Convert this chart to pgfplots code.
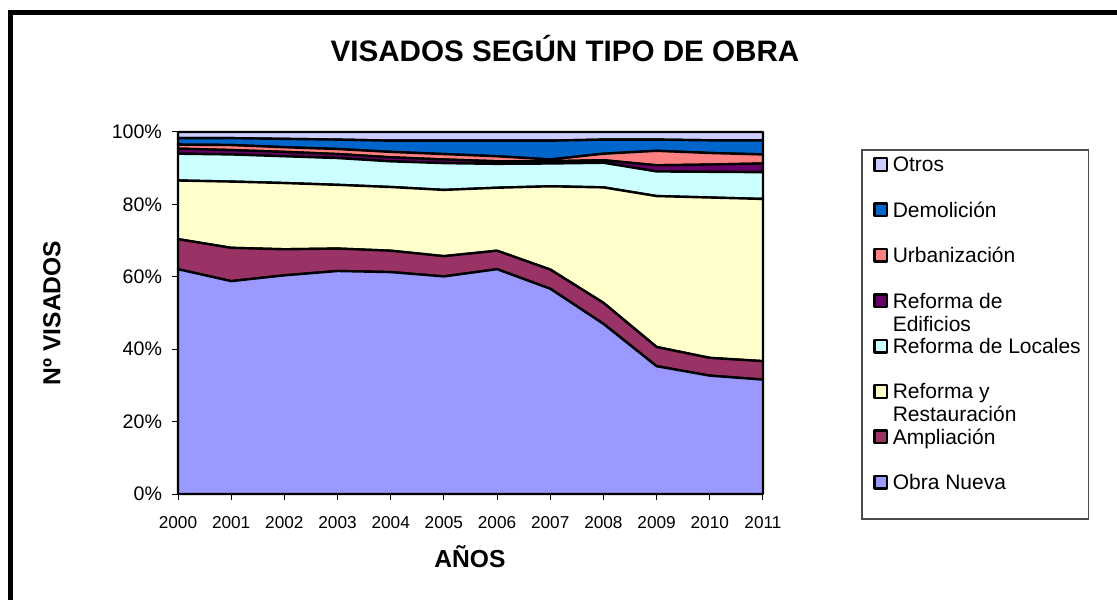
\documentclass[border=0pt]{standalone}
\usepackage{pgfplots}
\pgfplotsset{compat=1.18}
\usepackage{fontspec}
\setmainfont{Liberation Sans}
\definecolor{cON}{HTML}{9999FF}
\definecolor{cAM}{HTML}{993366}
\definecolor{cRR}{HTML}{FFFFCC}
\definecolor{cRL}{HTML}{CCFFFF}
\definecolor{cRE}{HTML}{660066}
\definecolor{cUR}{HTML}{FF8080}
\definecolor{cDE}{HTML}{0066CC}
\definecolor{cOT}{HTML}{CCCCFF}
\begin{document}
\begin{tikzpicture}
\path[use as bounding box] (-89pt,-52.5pt) rectangle (469.5pt,247pt);
\begin{axis}[
  scale only axis, width=292.5pt, height=181pt,
  at={(0pt,0pt)}, anchor=south west,
  xmin=2000, xmax=2011, ymin=0, ymax=100,
  stack plots=y, clip=false,
  axis x line*=bottom, axis y line*=left,
  axis line style={black, line width=0.5pt},
  xtick={2000,...,2011}, ytick={0,20,...,100},
  tick align=outside, major tick length=3pt,
  tick style={black, line width=0.5pt},
  /pgf/number format/assume math mode=true,
  x tick label style={/pgf/number format/1000 sep={}, font=\fontsize{8.6}{10}\selectfont},
  xticklabel shift=4.7pt,
  y tick label style={font=\fontsize{9.8}{11.5}\selectfont},
  yticklabel shift=1.5pt,
  yticklabel={\pgfmathprintnumber{\tick}\%},
  legend cell align=left,
  reverse legend,
  legend image code/.code={
    \draw[#1, draw=black, line width=1.2pt] (0pt,-3.15pt) rectangle (6.3pt,3.15pt);
    \path[draw=none, fill=none] (0pt,-5pt) rectangle (0pt,5pt);
  },
  legend style={at={(1.188,0.939)}, anchor=north west, draw=none, fill=none,
    inner sep=0pt, row sep=12.7pt, column sep=2.2pt,
    font=\fontsize{10.5}{11.5}\selectfont,
    nodes={inner sep=0pt, text height=7.5pt, text depth=0pt}},
  every axis plot/.append style={draw=black, line width=1.2pt, line join=round},
]
\addplot[fill=cON] coordinates {(2000,62.1) (2001,58.8) (2002,60.4) (2003,61.6) (2004,61.3) (2005,60.1) (2006,62.1) (2007,56.7) (2008,47.0) (2009,35.3) (2010,32.7) (2011,31.6)} \closedcycle;
\addlegendentry{Obra Nueva}
\addplot[fill=cAM] coordinates {(2000,8.3) (2001,9.2) (2002,7.2) (2003,6.2) (2004,5.9) (2005,5.6) (2006,5.1) (2007,5.3) (2008,5.8) (2009,5.3) (2010,4.9) (2011,5.1)} \closedcycle;
\addlegendentry{Ampliación}
\addplot[fill=cRR] coordinates {(2000,16.2) (2001,18.3) (2002,18.3) (2003,17.6) (2004,17.6) (2005,18.3) (2006,17.4) (2007,23.0) (2008,31.9) (2009,41.7) (2010,44.3) (2011,44.8)} \closedcycle;
\addlegendentry{\smash{\begin{tabular}[t]{@{}l@{}}Reforma y\\Restauración\end{tabular}}}
\addplot[fill=cRL] coordinates {(2000,7.4) (2001,7.5) (2002,7.4) (2003,7.4) (2004,7.1) (2005,7.4) (2006,6.6) (2007,6.3) (2008,6.8) (2009,6.8) (2010,7.1) (2011,7.4)} \closedcycle;
\addlegendentry{Reforma de Locales}
\addplot[fill=cRE] coordinates {(2000,1.4) (2001,1.2) (2002,1.2) (2003,1.1) (2004,1.1) (2005,1.0) (2006,0.7) (2007,0.6) (2008,0.7) (2009,1.7) (2010,2.0) (2011,2.4)} \closedcycle;
\addlegendentry{\smash{\begin{tabular}[t]{@{}l@{}}Reforma de\\Edificios\end{tabular}}}
\addplot[fill=cUR] coordinates {(2000,1.1) (2001,1.4) (2002,1.3) (2003,1.4) (2004,1.5) (2005,1.5) (2006,1.4) (2007,0.5) (2008,1.8) (2009,4.0) (2010,3.2) (2011,2.5)} \closedcycle;
\addlegendentry{Urbanización}
\addplot[fill=cDE] coordinates {(2000,1.8) (2001,1.9) (2002,2.3) (2003,2.6) (2004,3.1) (2005,3.7) (2006,4.3) (2007,5.2) (2008,3.9) (2009,3.1) (2010,3.5) (2011,3.9)} \closedcycle;
\addlegendentry{Demolición}
\addplot[fill=cOT] coordinates {(2000,1.7) (2001,1.7) (2002,1.9) (2003,2.1) (2004,2.4) (2005,2.4) (2006,2.4) (2007,2.4) (2008,2.1) (2009,2.1) (2010,2.3) (2011,2.3)} \closedcycle;
\addlegendentry{Otros}
\end{axis}
\draw[black, line width=2.5pt] (-83.6pt,-70pt) -- (-83.6pt,240.75pt) -- (480pt,240.75pt);
\draw[black!70, line width=0.6pt] (342pt,172pt) rectangle (455.3pt,-12.5pt);
\node[font=\fontsize{14.8}{17}\selectfont\bfseries] at (193.5pt,222.5pt) {VISADOS SEGÚN TIPO DE OBRA};
\node[font=\fontsize{12.3}{14}\selectfont\bfseries, rotate=90] at (-63pt,90.5pt) {Nº VISADOS};
\node[font=\fontsize{12.3}{14}\selectfont\bfseries] at (146pt,-31.5pt) {AÑOS};
\end{tikzpicture}
\end{document}
